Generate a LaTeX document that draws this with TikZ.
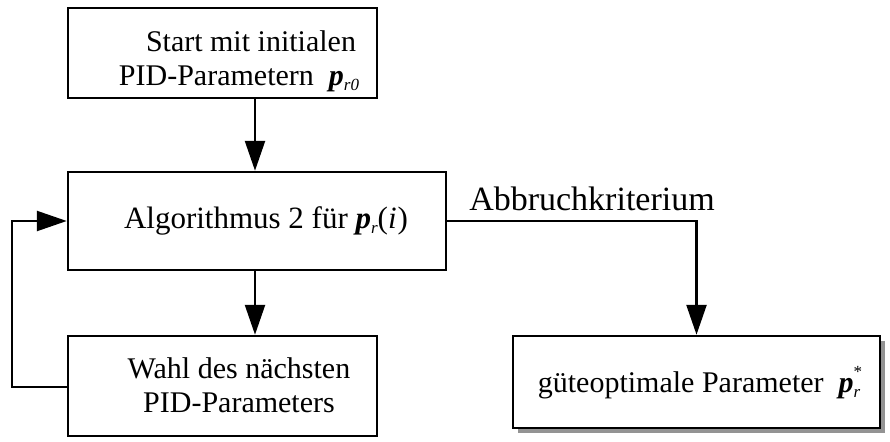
\documentclass[tikz,border=0pt]{standalone}
\usepackage{fontspec}
\setmainfont{Liberation Serif}
\usetikzlibrary{arrows.meta,shadows}
\newcommand{\bp}{\textbf{\textit{p}}}
\newcommand{\lsub}[1]{\raisebox{-0.35ex}{\fontsize{17}{17}\selectfont\itshape #1}}
\begin{document}
\begin{tikzpicture}[x=1pt,y=-1pt,
  box/.style={draw=black, line width=2.5pt, fill=white, inner sep=0pt},
  txt/.style={align=center, inner sep=0pt, font=\fontsize{30}{34}\selectfont},
  conn/.style={line width=2.5pt},
  arr/.style={conn, -{Triangle[length=30pt,width=20pt]}}]
\useasboundingbox (0,0) rectangle (890,441);
\node[box, minimum width=309pt, minimum height=90pt] (top) at (222.5,53) {};
\node[txt] (toptext) at (239,61) {\hspace*{24pt}Start mit initialen\\PID-Parametern\ \ \bp\lsub{r0}};
\node[box, minimum width=378pt, minimum height=98pt] (mid) at (257,221) {};
\node[txt, font=\fontsize{31}{34}\selectfont] (midtext) at (266,221) {Algorithmus 2 für \bp\lsub{r}(\textit{i}\kern1pt)};
\node[box, minimum width=309pt, minimum height=100pt] (bl) at (222.5,386) {};
\node[txt] (bltext) at (239,385) {Wahl des nächsten\\PID-Parameters};
\node[box, minimum width=367pt, minimum height=92pt,
  drop shadow={shadow xshift=5pt, shadow yshift=-5pt, fill=gray!85, opacity=1}] (br) at (696.5,382) {};
\node[txt] (brtext) at (700,383) {güteoptimale Parameter\ \ \bp\rlap{\lsub{r}}\raisebox{1.1ex}{\fontsize{17}{17}\selectfont *}};
\coordinate (ax) at (255,0);
\coordinate (lx) at (12,0);
\draw[arr] (top.south -| ax) -- (mid.north -| ax);
\draw[arr] (mid.south -| ax) -- (bl.north -| ax);
\draw[arr] (bl.west |- 0,387) -- (lx |- 0,387) -- (lx |- mid.west) -- (mid.west);
\draw[arr] (mid.east) -| (br.north);
\node[font=\fontsize{34}{36}\selectfont, inner sep=0pt] (lab) at (592,199) {Abbruchkriterium};
\end{tikzpicture}
\end{document}
